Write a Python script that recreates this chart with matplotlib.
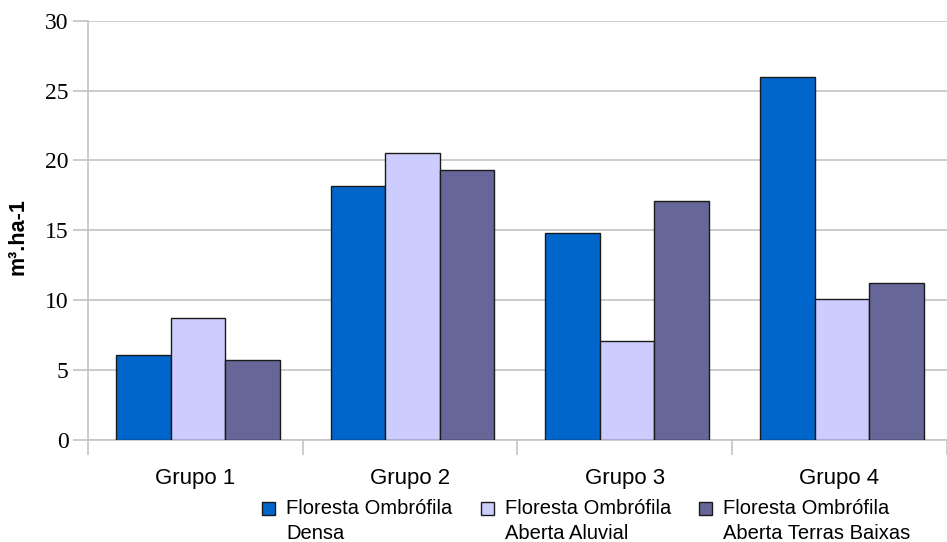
import matplotlib
matplotlib.use("Agg")
import matplotlib.pyplot as plt
from matplotlib.patches import Patch, Rectangle
from matplotlib.legend_handler import HandlerPatch
import numpy as np

groups = ["Grupo 1", "Grupo 2", "Grupo 3", "Grupo 4"]
series_names = ["Floresta Ombrófila\nDensa",
                "Floresta Ombrófila\nAberta Aluvial",
                "Floresta Ombrófila\nAberta Terras Baixas"]
densa = [6.1, 18.2, 14.8, 26.0]
aluvial = [8.7, 20.5, 7.1, 10.1]
terras_baixas = [5.7, 19.3, 17.1, 11.2]
colors = ["#0066CC", "#CCCCFF", "#666699"]
y_ticks = [0, 5, 10, 15, 20, 25, 30]

SANS = ["Liberation Sans", "DejaVu Sans"]
SERIF = ["Liberation Serif", "DejaVu Serif"]


class FirstLineSquare(HandlerPatch):
    """Legend key drawn beside the first line of a two-line label."""

    def __init__(self, shift, **kw):
        super().__init__(**kw)
        self.shift = shift

    def create_artists(self, legend, orig_handle, xdescent, ydescent,
                       width, height, fontsize, trans):
        p = Rectangle((-xdescent, -ydescent + self.shift), width, height)
        self.update_prop(p, orig_handle, legend)
        p.set_transform(trans)
        return [p]


fig = plt.figure(figsize=(9.47, 5.42), dpi=100)
ax = fig.add_axes([88 / 947, 1 - 440 / 542, 858.5 / 947, 419.3 / 542])

x = np.arange(len(groups))
w = 0.254
for k, (vals, col) in enumerate(zip([densa, aluvial, terras_baixas], colors)):
    ax.bar(x + (k - 1) * w + 0.012, vals, width=w, color=col,
           edgecolor="#1a1a1a", linewidth=1.0, zorder=3)

grid_col = "#c4c4c4"
ax.set_xlim(-0.5, len(groups) - 0.5)
ax.set_ylim(0, 30)
ax.set_yticks(y_ticks)
ax.yaxis.grid(True, color=grid_col, linewidth=1.2, zorder=0)
ax.set_axisbelow(True)

# category labels centred, tick marks between categories
ax.set_xticks(x)
ax.set_xticklabels(groups, fontsize=16, family=SANS)
ax.tick_params(axis="x", length=0, pad=20)
ax.set_xticks(np.arange(-0.5, len(groups)), minor=True)
ax.tick_params(axis="x", which="minor", length=11, color=grid_col, width=1.2)
ax.tick_params(axis="y", length=11, color=grid_col, width=1.2, pad=3,
               labelsize=17)
for lab in ax.get_yticklabels():
    lab.set_family(SERIF)

for side in ["top", "right"]:
    ax.spines[side].set_visible(False)
for side in ["left", "bottom"]:
    ax.spines[side].set_color(grid_col)
    ax.spines[side].set_linewidth(1.2)

ax.set_ylabel("m³.ha-1", fontsize=15.5, fontweight="bold", family=SANS)
ax.yaxis.set_label_coords(-0.069, 0.484)

handles = [Patch(facecolor=c, edgecolor="#1a1a1a", linewidth=1.0) for c in colors]
fs = 14.5
leg = fig.legend(handles, series_names, loc="upper left",
                 bbox_to_anchor=(262 / 947, 1 - 499 / 542), ncol=3, frameon=False,
                 prop={"family": SANS, "size": fs},
                 handlelength=0.65, handleheight=0.65, handletextpad=0.55,
                 columnspacing=1.4, borderpad=0, borderaxespad=0,
                 handler_map={Patch: FirstLineSquare(shift=9.0)})
for t in leg.get_texts():
    t.set_linespacing(1.38)

fig.savefig("out.png", dpi=100)
